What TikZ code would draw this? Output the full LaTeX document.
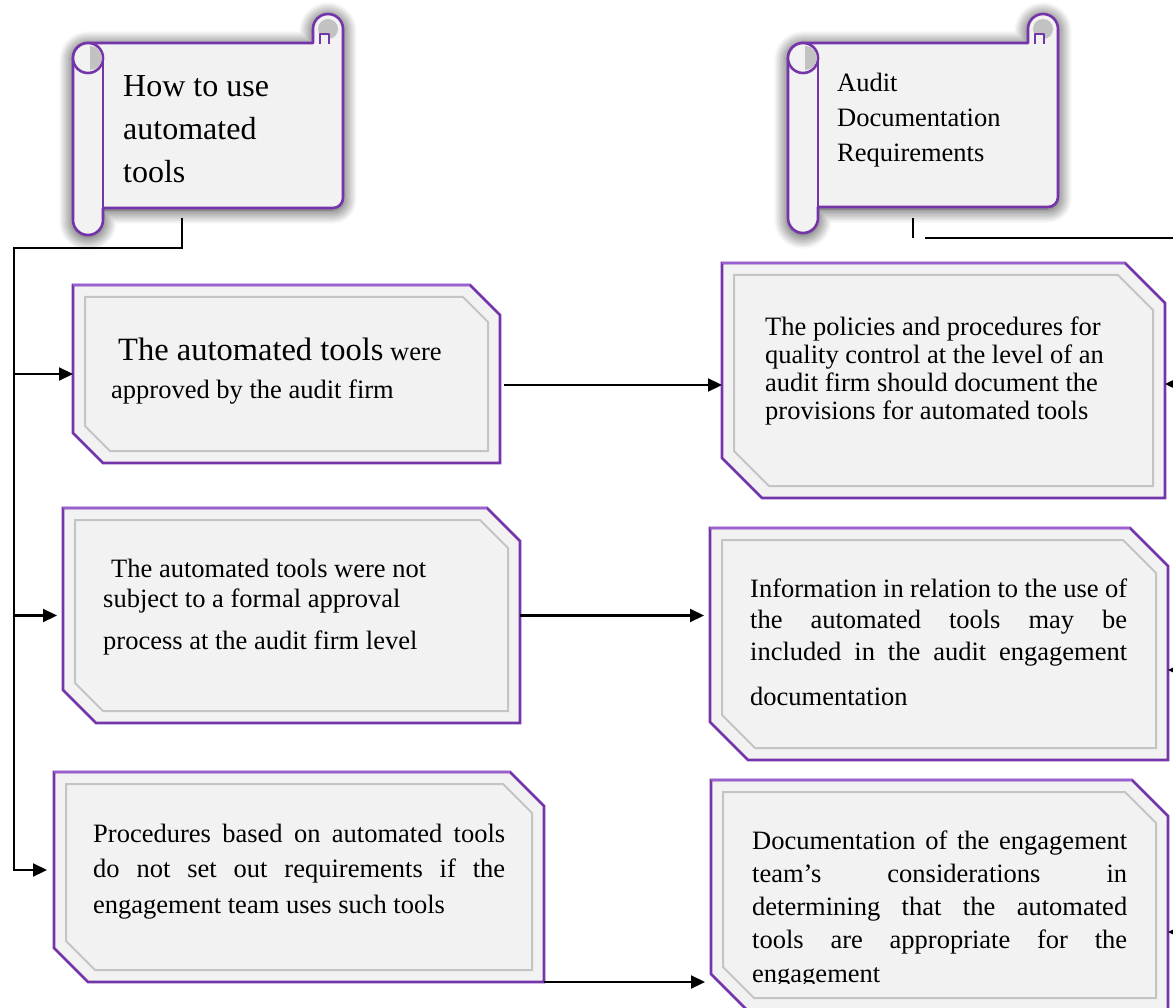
\documentclass[tikz,border=0pt]{standalone}
\usepackage{fontspec}
\setmainfont{Liberation Serif}
\usetikzlibrary{arrows.meta}
\usetikzlibrary{positioning}
\usetikzlibrary{shadows.blur}

\definecolor{framepurple}{HTML}{7434AA}
\definecolor{framelight}{HTML}{9C5FD2}
\definecolor{paper}{HTML}{F2F2F2}
\definecolor{bevelgray}{HTML}{C4C4C4}
\definecolor{curlgray}{HTML}{C2C2C2}

\tikzset{
  % outline of the scroll banners
  scroll line/.style = {
    draw = framepurple,
    line width = 2.6pt,
    line join = round
  },
  scroll body/.style = {
    scroll line,
    fill = paper,
    blur shadow = {shadow xshift=0pt, shadow yshift=-2pt,
      shadow blur radius=14pt, shadow blur steps=10, shadow opacity=85}
  },
  % invisible holder node of a text card
  card/.style = {
    rectangle,
    inner sep = 0,
    outer sep = 0
  },
  card frame/.style = {
    draw = framepurple,
    fill = paper,
    line width = 2.6pt
  },
  card bevel/.style = {
    draw = bevelgray,
    line width = 2pt
  },
  % text keeps the word spaces of the font
  card text/.style = {
    inner sep = 0,
    anchor = base west,
    align = left,
    execute at begin node = {\spaceskip=0pt\xspaceskip=0pt\relax}
  },
  link/.style = {
    draw = black,
    line width = 2.2pt
  },
  arr/.style = {
    link,
    -{Triangle[length=14pt, width=13pt]}
  }
}

% chamfered frame round a card node: #1 node, #2 corner cut
\newcommand\cardframe[2]{%
  \path[card frame]
    (#1.north west) -- ([xshift=-#2pt]#1.north east) -- ([yshift=-#2pt]#1.north east)
    -- (#1.south east) -- ([xshift=#2pt]#1.south west) -- ([yshift=#2pt]#1.south west) -- cycle;
  \path[draw=framelight, line width=2.6pt]
    (#1.north west) -- ([xshift=-#2pt]#1.north east);
  \path[card bevel]
    ([shift={(12pt,-12pt)}]#1.north west)
    -- ([shift={(-#2pt-7pt,-12pt)}]#1.north east)
    -- ([shift={(-12pt,-#2pt-7pt)}]#1.north east)
    -- ([shift={(-12pt,12pt)}]#1.south east)
    -- ([shift={(#2pt+7pt,12pt)}]#1.south west)
    -- ([shift={(12pt,#2pt+7pt)}]#1.south west) -- cycle;
}

% scroll banner: left, top, right, body bottom, roll bottom
\newcommand\scrollbanner[5]{%
  \path[scroll body]
    ({#1+30},{-#4}) -- ({#3-10},{-#4})
    arc[start angle=-90, end angle=0, radius=10]
    -- ({#3},{-#2+14}) arc[start angle=0, end angle=180, radius=15]
    -- ({#3-30},{-#2}) -- ({#1+15},{-#2})
    arc[start angle=90, end angle=180, radius=15]
    -- ({#1},{-#5+15}) arc[start angle=180, end angle=360, radius=15]
    -- cycle;
  % curl at the top right
  \fill[curlgray] ({#3-15},{-#2+14}) circle[radius=10];
  \path[scroll line, fill=paper, line width=2pt]
    ({#3-23},{-#2-1}) -- ({#3-23},{-#2+9}) -- ({#3-14},{-#2+9}) -- ({#3-14},{-#2-1});
  % roll at the left
  \path[scroll line] ({#1+30},{-#2-15}) -- ({#1+30},{-#5+15});
  \path[scroll line, fill=paper] ({#1+15},{-#2-15}) circle[radius=15];
  \fill[curlgray] ({#1+17},{-#2-3}) arc[start angle=90, end angle=-90, radius=12] -- cycle;
}

\begin{document}
\begin{tikzpicture}[x=1pt, y=1pt]
  \useasboundingbox (0,0) rectangle (1173,-1008);
  \clip (0,0) rectangle (1173,-1008);

  % banners
  \scrollbanner{73}{43}{343}{208}{235}
  \scrollbanner{788}{43}{1058}{207}{233}
  \node[card text, text width=210pt, font=\fontsize{32}{43}\selectfont]
    (S1 text) at (123,-97) {How to use\\automated\\tools};
  \node[card text, text width=200pt, font=\fontsize{26.5}{35}\selectfont]
    (S2 text) at (837,-92) {Audit\\Documentation\\Requirements};

  % cards
  \node[card, minimum width=427pt, minimum height=178pt] (L1) at (286.5,-374) {};
  \node[card, minimum width=457pt, minimum height=215pt] (L2) at (291.5,-615.5) {};
  \node[card, minimum width=490pt, minimum height=210pt] (L3) at (299,-877) {};
  \node[card, minimum width=443pt, minimum height=235pt] (R1) at (943.5,-380.5) {};
  \node[card, minimum width=458pt, minimum height=232pt] (R2) at (939,-644) {};
  \node[card, minimum width=457pt, minimum height=230pt] (R3) at (939.5,-895) {};
  \cardframe{L1}{30}
  \cardframe{L2}{33}
  \cardframe{L3}{34}
  \cardframe{R1}{40}
  \cardframe{R2}{38}
  \cardframe{R3}{36}

  \node[card text, text width=380pt, font=\fontsize{26.5}{38}\selectfont]
    (L1 text) at (111,-360)
    {\hspace*{7pt}{\fontsize{32.5}{38}\selectfont The automated tools} were\\approved by the audit firm};
  \node[card text, text width=400pt, font=\fontsize{26.5}{30}\selectfont]
    (L2 text) at (103,-577)
    {\hspace*{8pt}The automated tools were not\\subject to a formal approval\\[12pt]process at the audit firm level};
  \node[card text, text width=412pt, align=justify, font=\fontsize{26.5}{35.5}\selectfont]
    (L3 text) at (93,-842)
    {Procedures based on automated tools\linebreak do not set out requirements if the\linebreak engagement team uses such tools};
  \node[card text, text width=380pt, font=\fontsize{26.5}{27.7}\selectfont]
    (R1 text) at (765,-336)
    {The policies and procedures for\\quality control at the level of an\\audit firm should document the\\provisions for automated tools};
  \node[card text, text width=377pt, align=justify, font=\fontsize{26.5}{31.5}\selectfont]
    (R2 text) at (750,-597)
    {Information in relation to the use of\linebreak the automated tools may be\linebreak included in the audit engagement\vspace{13.5pt}\linebreak documentation};
  \begin{scope}
    \clip (700,-760) rectangle (1173,-983);
    \node[card text, text width=375pt, align=justify, font=\fontsize{26.5}{33.3}\selectfont]
      (R3 text) at (752,-849)
      {Documentation of the engagement\linebreak team’s considerations in\linebreak determining that the automated\linebreak tools are appropriate for the\linebreak engagement};
  \end{scope}

  % left side links
  \coordinate (S1 tail) at (182,-218);
  \coordinate (lbus) at (14,-248);
  \draw[arr, shorten >=7pt] (S1 tail) |- (lbus) |- ([yshift=7pt]L3.west);
  \draw[arr] (lbus |- L1.west) -- (L1.west);
  \draw[arr, shorten >=6pt] (lbus |- L2.west) -- (L2.west);

  % links across
  \path ([yshift=-11pt]L1.east) coordinate (L1 out);
  \draw[arr, shorten <=4pt] (L1 out) -- (L1 out -| R1.west);
  \draw[arr, shorten >=6pt] (L2.east) -- (L2.east -| R2.west);
  \draw[arr, shorten >=6pt] (L3.south east) -- (L3.south east -| R3.west);

  % right side links
  \coordinate (S2 tail) at (913,-218);
  \coordinate (S2 foot) at (913,-238);
  \draw[link] (S2 tail) -- (S2 foot);
  \coordinate (rbus) at (925,-238);
  \coordinate (rbus corner) at (1185,-238);
  \path ([yshift=-3.5pt]R1.east) coordinate (R1 in);
  \path ([yshift=-26pt]R2.east) coordinate (R2 in);
  \path ([yshift=-37pt]R3.east) coordinate (R3 in);
  \draw[link] (rbus) -- (rbus corner) -- (rbus corner |- R3 in);
  \draw[arr] (rbus corner |- R1 in) -- (R1 in);
  \draw[arr] (rbus corner |- R2 in) -- (R2 in);
  \draw[arr] (rbus corner |- R3 in) -- (R3 in);
\end{tikzpicture}
\end{document}
